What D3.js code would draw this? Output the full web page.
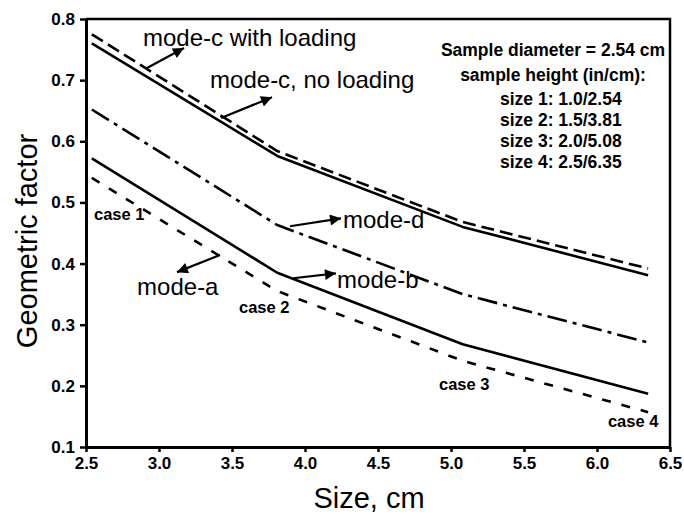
<!DOCTYPE html>
<html>
<head>
<meta charset="utf-8">
<script src="https://cdn.jsdelivr.net/npm/d3@7"></script>
<style>
  html, body { margin: 0; padding: 0; background: #fff; }
  svg { display: block; font-family: "Liberation Sans", Arial, Helvetica, sans-serif; }
</style>
</head>
<body>
<svg id="chart" width="684" height="518"></svg>
<script>
// ---------- data ----------
const sizes = [2.54, 3.81, 5.08, 6.35];
const modeCLoading   = [0.775, 0.584, 0.468, 0.392];
const modeCNoLoading = [0.760, 0.576, 0.460, 0.381];
const modeD          = [0.652, 0.463, 0.350, 0.271];
const modeAB         = [0.572, 0.385, 0.268, 0.187];
const modeACases     = [0.540, 0.355, 0.241, 0.157];

const xTicks = [2.5, 3.0, 3.5, 4.0, 4.5, 5.0, 5.5, 6.0, 6.5];
const yTicks = [0.1, 0.2, 0.3, 0.4, 0.5, 0.6, 0.7, 0.8];

// annotation labels (data units, text start/baseline)
const modeLabels = [
  { text: "mode-c with loading", x: 2.89, y: 0.756 },
  { text: "mode-c, no loading",  x: 3.35, y: 0.687 },
  { text: "mode-d",              x: 4.26, y: 0.458 },
  { text: "mode-b",              x: 4.22, y: 0.360 },
  { text: "mode-a",              x: 2.85, y: 0.348 }
];
const caseLabels = [
  { text: "case 1", x: 2.555, y: 0.471 },
  { text: "case 2", x: 3.548, y: 0.319 },
  { text: "case 3", x: 4.918, y: 0.193 },
  { text: "case 4", x: 6.075, y: 0.132 }
];
// arrows: tail (x0,y0) -> tip (x1,y1), data units
const arrows = [
  { x0: 2.918, y0: 0.720, x1: 3.171, y1: 0.7525 },
  { x0: 3.425, y0: 0.638, x1: 3.774, y1: 0.672 },
  { x0: 3.897, y0: 0.461, x1: 4.247, y1: 0.474 },
  { x0: 3.918, y0: 0.376, x1: 4.212, y1: 0.384 },
  { x0: 3.418, y0: 0.414, x1: 3.123, y1: 0.386 }
];
const legendLines = [
  "Sample diameter = 2.54 cm",
  "sample height (in/cm):",
  "size 1: 1.0/2.54",
  "size 2: 1.5/3.81",
  "size 3: 2.0/5.08",
  "size 4: 2.5/6.35"
];

// ---------- layout ----------
const svg = d3.select("#chart");
const mLeft = 86, mRight = 670, mTop = 19, mBottom = 447;
const x = d3.scaleLinear().domain([2.5, 6.5]).range([mLeft, mRight]);
const y = d3.scaleLinear().domain([0.1, 0.8]).range([mBottom, mTop]);

// frame (top & right)
svg.append("path")
  .attr("d", `M${mLeft},${mTop}H${mRight}V${mBottom}`)
  .attr("fill", "none").attr("stroke", "#000").attr("stroke-width", 2.5);

// axes
const xAxis = svg.append("g").attr("transform", `translate(0,${mBottom})`)
  .call(d3.axisBottom(x).tickValues(xTicks).tickFormat(d3.format(".1f")).tickSizeInner(5).tickSizeOuter(0).tickPadding(5));
const yAxis = svg.append("g").attr("transform", `translate(${mLeft},0)`)
  .call(d3.axisLeft(y).tickValues(yTicks).tickFormat(d3.format(".1f")).tickSizeInner(6).tickSizeOuter(0).tickPadding(5));
[xAxis, yAxis].forEach(g => {
  g.select(".domain").attr("stroke", "#000").attr("stroke-width", 3);
  g.selectAll(".tick line").attr("stroke", "#000").attr("stroke-width", 2.5);
  g.selectAll(".tick text").attr("fill", "#000")
    .style("font-family", "'Liberation Sans', Arial, sans-serif")
    .style("font-size", "17px").style("font-weight", "bold");
});

// axis titles
svg.append("text").attr("x", (mLeft + mRight) / 2 - 9).attr("y", 508)
  .attr("text-anchor", "middle").style("font-size", "29px").text("Size, cm");
svg.append("text")
  .attr("transform", `translate(37,${(mTop + mBottom) / 2 + 8}) rotate(-90)`)
  .attr("text-anchor", "middle").style("font-size", "29px").text("Geometric factor");

// lines
const line = d3.line().x(d => x(d[0])).y(d => y(d[1])).curve(d3.curveLinear);
const series = [
  { vals: modeCLoading,   dash: "13,6" },
  { vals: modeCNoLoading, dash: null },
  { vals: modeD,          dash: "20,6,4,6" },
  { vals: modeAB,         dash: null },
  { vals: modeACases,     dash: "9,11" }
];
series.forEach(s => {
  svg.append("path")
    .datum(sizes.map((sz, i) => [sz, s.vals[i]]))
    .attr("d", line)
    .attr("fill", "none").attr("stroke", "#000").attr("stroke-width", 2.6)
    .attr("stroke-linejoin", "round")
    .attr("stroke-dasharray", s.dash);
});

// arrows
svg.append("defs").append("marker")
  .attr("id", "head").attr("viewBox", "0 0 10 10")
  .attr("refX", 10).attr("refY", 5)
  .attr("markerWidth", 15).attr("markerHeight", 11).attr("markerUnits", "userSpaceOnUse")
  .attr("orient", "auto")
  .append("path").attr("d", "M0,0L10,5L0,10Z").attr("fill", "#000");
arrows.forEach(a => {
  svg.append("line")
    .attr("x1", x(a.x0)).attr("y1", y(a.y0))
    .attr("x2", x(a.x1)).attr("y2", y(a.y1))
    .attr("stroke", "#000").attr("stroke-width", 2.2)
    .attr("marker-end", "url(#head)");
});

// labels
modeLabels.forEach(l => {
  svg.append("text").attr("x", x(l.x)).attr("y", y(l.y))
    .style("font-size", "24px").text(l.text);
});
caseLabels.forEach(l => {
  svg.append("text").attr("x", x(l.x)).attr("y", y(l.y))
    .style("font-size", "16.5px").style("font-weight", "bold").text(l.text);
});

// legend text block
const lg = svg.append("g");
legendLines.forEach((t, i) => {
  const centered = i < 2;
  lg.append("text")
    .attr("x", centered ? 553 : 500)
    .attr("y", [56, 81, 105, 126, 147, 168][i])
    .attr("text-anchor", centered ? "middle" : "start")
    .style("font-size", "17.5px").style("font-weight", "bold")
    .text(t);
});
</script>
</body>
</html>
